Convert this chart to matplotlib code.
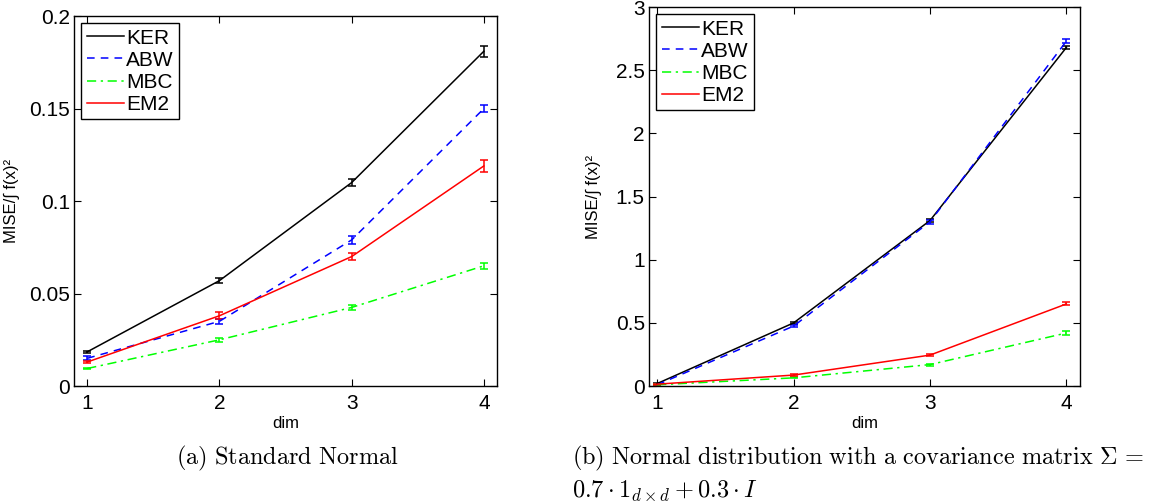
import matplotlib
matplotlib.use("Agg")
import matplotlib.pyplot as plt
from matplotlib.lines import Line2D

plt.rcParams['font.family'] = ['Liberation Sans', 'DejaVu Sans']
plt.rcParams['mathtext.fontset'] = 'cm'

# ------------------------
# DATA
# ------------------------
dims = [1, 2, 3, 4]
methods = ["KER", "ABW", "MBC", "EM2"]

# (a) Standard Normal
a_ker = [0.0185, 0.057, 0.110, 0.181]
a_abw = [0.015, 0.035, 0.079, 0.150]
a_mbc = [0.0095, 0.025, 0.0425, 0.065]
a_em2 = [0.013, 0.038, 0.070, 0.119]
a_ker_err = [0.0005, 0.0015, 0.002, 0.003]
a_abw_err = [0.001, 0.0015, 0.002, 0.002]
a_mbc_err = [0.0005, 0.001, 0.0015, 0.0015]
a_em2_err = [0.0008, 0.002, 0.002, 0.003]

# (b) correlated normal
b_ker = [0.02, 0.50, 1.31, 2.68]
b_abw = [0.01, 0.475, 1.30, 2.73]
b_mbc = [0.01, 0.065, 0.17, 0.42]
b_em2 = [0.015, 0.087, 0.245, 0.65]
b_ker_err = [0.005, 0.01, 0.015, 0.01]
b_abw_err = [0.005, 0.01, 0.015, 0.015]
b_mbc_err = [0.003, 0.005, 0.008, 0.012]
b_em2_err = [0.003, 0.005, 0.008, 0.012]

styles = {
    "KER": dict(color="black", ls="-"),
    "ABW": dict(color="#0000ff", ls=(0, (5, 4))),
    "MBC": dict(color="#00ff00", ls=(0, (6, 3, 1.5, 3))),
    "EM2": dict(color="#ff0000", ls="-"),
}

# ------------------------
# PLOT
# ------------------------
fig = plt.figure(figsize=(11.53, 5.04), dpi=100)
ax1 = fig.add_axes([0.0642, 0.234, 0.3669, 0.734])
ax2 = fig.add_axes([0.5629, 0.234, 0.3738, 0.752])


def draw(ax, series, errs, ylab_x):
    handles = []
    for name in methods:
        st = styles[name]
        ax.errorbar(dims, series[name], yerr=errs[name], color=st["color"],
                    ls=st["ls"], lw=1.1, elinewidth=1.1, capsize=3,
                    capthick=1.1)
        handles.append(Line2D([], [], color=st["color"], ls=st["ls"],
                              lw=1.1, label=name))
    ax.tick_params(direction="in", top=True, right=True, labelsize=15,
                   length=5, pad=3)
    ax.tick_params(axis="x", pad=6)
    ax.set_xticks(dims)
    ax.set_xlabel("dim", fontsize=12, labelpad=2)
    ax.set_ylabel("MISE/\u222b f(x)\u00b2", fontsize=12)
    ax.yaxis.set_label_coords(ylab_x, 0.5)
    leg = ax.legend(handles=handles, loc="upper left", fontsize=15,
                    fancybox=False, framealpha=1, edgecolor="black",
                    handlelength=1.8, handletextpad=0.1, labelspacing=0.15,
                    borderpad=0.25, borderaxespad=0.35)
    leg.get_frame().set_linewidth(1.0)
    for s in ax.spines.values():
        s.set_linewidth(1.0)


draw(ax1,
     {"KER": a_ker, "ABW": a_abw, "MBC": a_mbc, "EM2": a_em2},
     {"KER": a_ker_err, "ABW": a_abw_err, "MBC": a_mbc_err, "EM2": a_em2_err},
     -0.128)
ax1.set_xlim(0.9, 4.1)
ax1.set_ylim(0, 0.2)
ax1.set_yticks([0, 0.05, 0.1, 0.15, 0.2])
ax1.set_yticklabels(["0", "0.05", "0.1", "0.15", "0.2"])

draw(ax2,
     {"KER": b_ker, "ABW": b_abw, "MBC": b_mbc, "EM2": b_em2},
     {"KER": b_ker_err, "ABW": b_abw_err, "MBC": b_mbc_err, "EM2": b_em2_err},
     -0.11)
ax2.set_xlim(0.94, 4.1)
ax2.set_ylim(0, 3)
ax2.set_yticks([0, 0.5, 1, 1.5, 2, 2.5, 3])
ax2.set_yticklabels(["0", "0.5", "1", "1.5", "2", "2.5", "3"])

# captions
fig.text(0.2494, 0.091, r"$\mathrm{(a)\ Standard\ Normal}$", fontsize=17.5,
         ha="center", va="center")
fig.text(0.4961, 0.091,
         r"$\mathrm{(b)\ Normal\ distribution\ with\ a\ covariance"
         r"\ matrix}\ \Sigma\,=$",
         fontsize=17.5, ha="left", va="center")
fig.text(0.4961, 0.012, r"$0.7\cdot\mathbf{1}_{d\times d}+0.3\cdot I$",
         fontsize=17.5, ha="left", va="baseline")

fig.savefig("out.png", dpi=100)
